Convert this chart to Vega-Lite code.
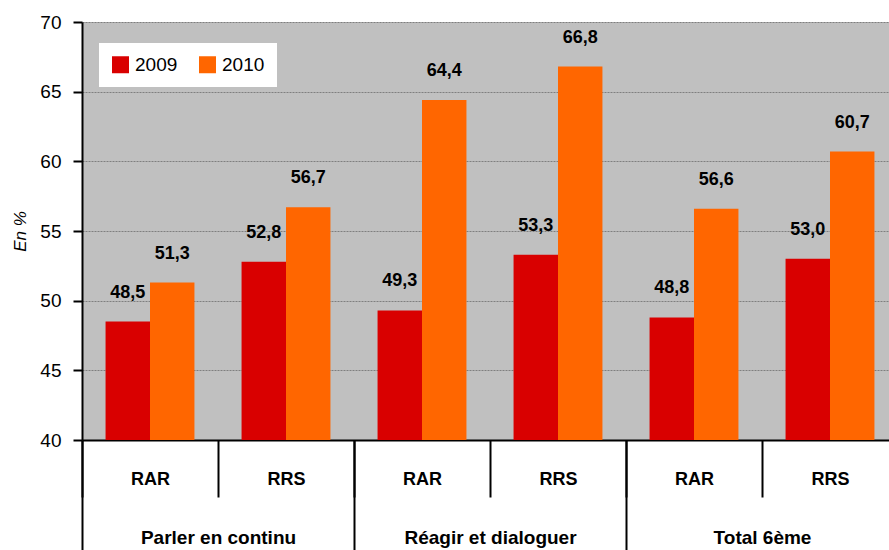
{
  "$schema": "https://vega.github.io/schema/vega-lite/v6.json",
  "width": 807,
  "height": 418,
  "autosize": {"type": "none"},
  "padding": {"left": 82, "top": 22, "right": 0, "bottom": 110},
  "background": "white",
  "config": {
    "font": "Liberation Sans",
    "view": {"fill": "#c0c0c0", "stroke": null},
    "locale": {"number": {"decimal": ",", "thousands": " ", "grouping": [3], "currency": ["", " €"]}}
  },
  "data": {
    "values": [
      {"group": "Parler en continu", "sub": "RAR", "key": "Parler en continu|RAR", "year": "2009", "value": 48.5},
      {"group": "Parler en continu", "sub": "RAR", "key": "Parler en continu|RAR", "year": "2010", "value": 51.3},
      {"group": "Parler en continu", "sub": "RRS", "key": "Parler en continu|RRS", "year": "2009", "value": 52.8},
      {"group": "Parler en continu", "sub": "RRS", "key": "Parler en continu|RRS", "year": "2010", "value": 56.7},
      {"group": "Réagir et dialoguer", "sub": "RAR", "key": "Réagir et dialoguer|RAR", "year": "2009", "value": 49.3},
      {"group": "Réagir et dialoguer", "sub": "RAR", "key": "Réagir et dialoguer|RAR", "year": "2010", "value": 64.4},
      {"group": "Réagir et dialoguer", "sub": "RRS", "key": "Réagir et dialoguer|RRS", "year": "2009", "value": 53.3},
      {"group": "Réagir et dialoguer", "sub": "RRS", "key": "Réagir et dialoguer|RRS", "year": "2010", "value": 66.8},
      {"group": "Total 6ème", "sub": "RAR", "key": "Total 6ème|RAR", "year": "2009", "value": 48.8},
      {"group": "Total 6ème", "sub": "RAR", "key": "Total 6ème|RAR", "year": "2010", "value": 56.6},
      {"group": "Total 6ème", "sub": "RRS", "key": "Total 6ème|RRS", "year": "2009", "value": 53.0},
      {"group": "Total 6ème", "sub": "RRS", "key": "Total 6ème|RRS", "year": "2010", "value": 60.7}
    ]
  },
  "resolve": {"scale": {"x": "independent"}, "axis": {"x": "independent"}},
  "layer": [
    {
      "encoding": {
        "x": {
          "field": "key", "type": "nominal", "sort": null,
          "scale": {"paddingInner": 0, "paddingOuter": 0, "range": [0, 816]},
          "axis": {
            "orient": "bottom", "title": null, "labelAngle": 0,
            "labelExpr": "split(datum.value, '|')[1]",
            "tickBand": "extent", "tickSize": 57, "tickColor": "black", "tickWidth": 2,
            "domainColor": "black", "domainWidth": 2,
            "labelBaseline": "middle", "labelPadding": -18,
            "labelFontSize": 18, "labelFontWeight": "bold", "labelColor": "black"
          }
        },
        "y": {
          "field": "value", "type": "quantitative",
          "scale": {"domain": [40, 70], "zero": false},
          "axis": {
            "title": "En %", "titleFontStyle": "italic", "titleFontWeight": "normal", "titleFontSize": 17,
            "titleColor": "black", "titlePadding": 10,
            "values": [40, 45, 50, 55, 60, 65, 70],
            "labelFontSize": 19, "labelColor": "black", "labelPadding": 12,
            "tickSize": 9, "tickColor": "black", "tickWidth": 2,
            "domainColor": "black", "domainWidth": 2,
            "grid": true, "gridColor": "#7f7f7f", "gridDash": [2, 1], "gridWidth": 1
          }
        }
      },
      "layer": [
        {
          "mark": {"type": "bar", "clip": true},
          "encoding": {
            "xOffset": {"field": "year", "type": "nominal", "scale": {"paddingInner": 0, "paddingOuter": 0.53}},
            "color": {
              "field": "year", "type": "nominal",
              "scale": {"domain": ["2009", "2010"], "range": ["#d90000", "#ff6600"]},
              "legend": {
                "title": null, "orient": "none", "legendX": 17, "legendY": 21,
                "direction": "horizontal", "fillColor": "white", "padding": 12,
                "symbolType": "square", "symbolSize": 289, "symbolStrokeWidth": 0,
                "labelFontSize": 19, "labelColor": "black", "columnPadding": 20, "labelOffset": 5
              }
            }
          }
        },
        {
          "mark": {"type": "text", "dy": -29, "fontSize": 18, "fontWeight": "bold", "color": "black"},
          "encoding": {
            "xOffset": {"field": "year", "type": "nominal", "scale": {"paddingInner": 0, "paddingOuter": 0.53}},
            "text": {"field": "value", "type": "quantitative", "format": ".1f"}
          }
        }
      ]
    },
    {
      "mark": {"type": "tick", "opacity": 0},
      "encoding": {
        "x": {
          "field": "group", "type": "nominal", "sort": null,
          "scale": {"paddingInner": 0, "paddingOuter": 0, "range": [0, 816]},
          "axis": {
            "orient": "bottom", "title": null, "labelAngle": 0, "domain": false, "grid": false,
            "tickBand": "extent", "tickSize": 110, "tickColor": "black", "tickWidth": 2,
            "labelBaseline": "middle", "labelPadding": -13,
            "labelFontSize": 19, "labelFontWeight": "bold", "labelColor": "black"
          }
        },
        "y": {"field": "value", "type": "quantitative"}
      }
    }
  ]
}
